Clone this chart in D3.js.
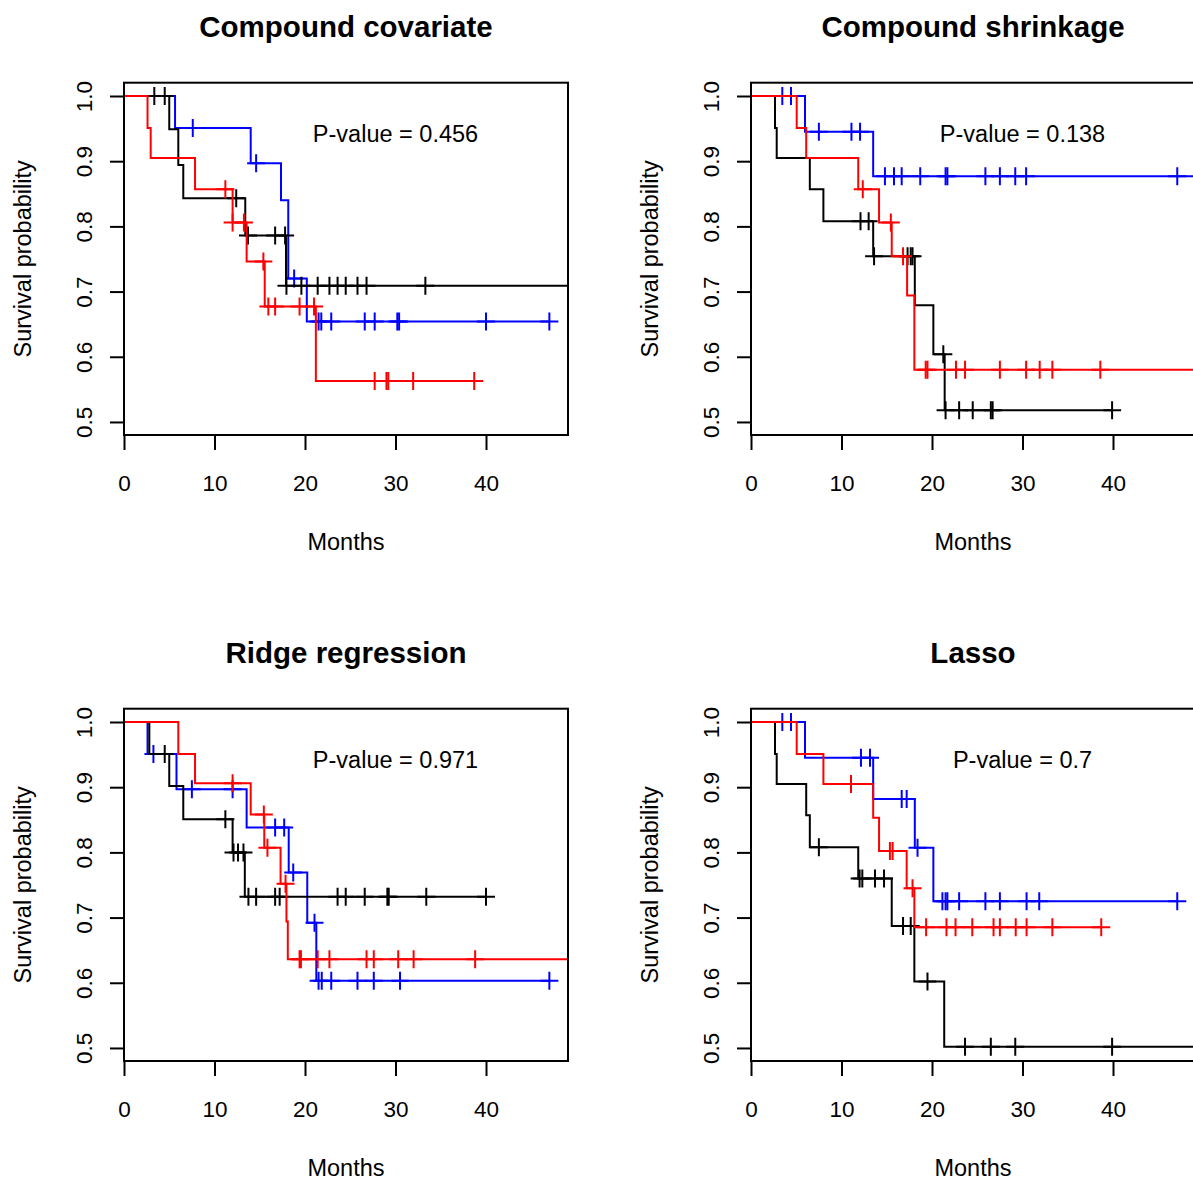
<!DOCTYPE html>
<html>
<head>
<meta charset="utf-8">
<script src="https://cdn.jsdelivr.net/npm/d3@7"></script>
<style>
  body { margin: 0; background: #fff; }
  svg { display: block; font-family: "Liberation Sans", Arial, sans-serif; }
</style>
</head>
<body>
<svg id="chart" width="1193" height="1184"></svg>
<script>
// Panels, in reading order
const panelTitles = ["Compound covariate", "Compound shrinkage", "Ridge regression", "Lasso"];
const pValues = ["0.456", "0.138", "0.971", "0.7"];
const xTicks = [0, 10, 20, 30, 40];
const yTicks = [0.5, 0.6, 0.7, 0.8, 0.9, 1.0];
const groupColors = ["blue", "black", "red"];   // drawing order

// Each curve: drops = [month, survival after the drop], censor = months, end = last month drawn
// Compound covariate
const covBlueDrops = [[5.64, 0.951], [14.0, 0.897], [17.35, 0.840], [18.15, 0.720], [20.2, 0.654]];
const covBlueCensor = [7.6, 14.6, 18.8, 21.5, 21.8, 22.9, 26.6, 27.7, 30.2, 30.4, 40.0, 47.0];
const covBlackDrops = [[5.0, 0.949], [6.0, 0.894], [6.55, 0.843], [13.4, 0.786], [17.9, 0.709]];
const covBlackCensor = [3.35, 4.5, 12.4, 13.7, 16.7, 17.8, 17.95, 19.6, 21.4, 22.7, 23.6, 24.5, 25.8, 26.8, 33.3];
const covRedDrops = [[2.6, 0.951], [2.95, 0.905], [7.85, 0.857], [12.0, 0.806], [13.55, 0.746], [15.55, 0.677], [21.2, 0.563]];
const covRedCensor = [11.2, 12.0, 13.25, 15.4, 15.95, 16.7, 19.4, 21.0, 27.7, 29.0, 29.2, 31.95, 38.7];
const covEnds = [47.0, 50, 38.7];

// Compound shrinkage
const shrBlueDrops = [[5.97, 0.945], [13.5, 0.877]];
const shrBlueCensor = [3.46, 4.42, 7.5, 11.1, 12.05, 14.8, 15.8, 16.65, 18.7, 21.5, 21.7, 25.9, 27.5, 29.2, 30.4, 47.1];
const shrBlackDrops = [[2.65, 0.951], [2.84, 0.905], [6.5, 0.857], [8.0, 0.808], [13.5, 0.754], [18.1, 0.679], [20.15, 0.604], [21.4, 0.518]];
const shrBlackCensor = [12.1, 13.0, 13.6, 17.3, 17.65, 17.85, 21.25, 21.5, 23.0, 24.5, 26.5, 26.7, 39.9];
const shrRedDrops = [[5.05, 0.951], [6.1, 0.905], [11.85, 0.857], [14.15, 0.806], [15.55, 0.754], [17.25, 0.694], [18.05, 0.580]];
const shrRedCensor = [12.35, 15.45, 16.8, 19.3, 19.5, 22.65, 23.65, 27.5, 30.4, 31.9, 33.3, 38.6];
const shrEnds = [50, 39.9, 50];

// Ridge regression
const ridBlueDrops = [[2.6, 0.951], [5.8, 0.897], [13.55, 0.838], [18.2, 0.769], [20.25, 0.692], [21.25, 0.603]];
const ridBlueCensor = [3.25, 7.5, 12.0, 16.7, 17.7, 18.7, 21.05, 21.5, 21.85, 22.9, 25.8, 27.6, 30.5, 47.0];
const ridBlackDrops = [[2.8, 0.951], [5.0, 0.902], [6.55, 0.851], [12.0, 0.800], [13.35, 0.732]];
const ridBlackCensor = [4.5, 11.2, 12.1, 12.6, 13.2, 13.75, 14.6, 16.7, 17.2, 23.6, 24.5, 26.6, 29.1, 29.25, 33.4, 40.0];
const ridRedDrops = [[6.0, 0.951], [7.85, 0.906], [14.0, 0.858], [15.5, 0.807], [17.3, 0.752], [17.95, 0.694], [18.1, 0.636]];
const ridRedCensor = [12.0, 15.45, 15.85, 17.85, 19.4, 19.55, 21.4, 22.7, 26.8, 27.6, 30.3, 32.0, 38.8];
const ridEnds = [47.0, 40.0, 50];

// Lasso
const lasBlueDrops = [[5.97, 0.945], [13.5, 0.882], [18.1, 0.807], [20.15, 0.725]];
const lasBlueCensor = [3.46, 4.42, 12.15, 13.15, 16.65, 17.2, 18.4, 21.15, 21.5, 21.7, 23.0, 25.9, 27.5, 30.45, 31.85, 47.1];
const lasBlackDrops = [[2.65, 0.951], [2.84, 0.905], [6.1, 0.857], [6.5, 0.808], [11.85, 0.760], [15.55, 0.687], [18.05, 0.602], [21.35, 0.502]];
const lasBlackCensor = [7.5, 12.0, 12.3, 13.7, 14.7, 16.8, 17.65, 19.5, 23.65, 26.5, 29.2, 39.9];
const lasRedDrops = [[5.05, 0.951], [8.0, 0.905], [13.5, 0.853], [14.15, 0.802], [17.2, 0.745], [18.05, 0.685]];
const lasRedCensor = [11.05, 15.35, 15.65, 17.85, 19.35, 21.6, 22.6, 24.45, 26.8, 27.5, 29.25, 30.45, 33.3, 38.7];
const lasEnds = [47.1, 50, 38.7];

const panelDrops = [
    [covBlueDrops, covBlackDrops, covRedDrops],
    [shrBlueDrops, shrBlackDrops, shrRedDrops],
    [ridBlueDrops, ridBlackDrops, ridRedDrops],
    [lasBlueDrops, lasBlackDrops, lasRedDrops]
];
const panelCensor = [
    [covBlueCensor, covBlackCensor, covRedCensor],
    [shrBlueCensor, shrBlackCensor, shrRedCensor],
    [ridBlueCensor, ridBlackCensor, ridRedCensor],
    [lasBlueCensor, lasBlackCensor, lasRedCensor]
];
const panelEnds = [covEnds, shrEnds, ridEnds, lasEnds];

// Layout
const boxW = 444, boxH = 352.3;
const colLeft = [124, 751], rowTop = [82.7, 708.7];
const fontTick = 22.5, fontLab = 23.5, fontTitle = 29.5;
const markArm = 9;

const svg = d3.select("#chart");

const x = d3.scaleLinear().domain([0, 49.06]).range([0, boxW]);
const y = d3.scaleLinear().domain([0.48, 1.0204]).range([boxH, 0]);

// survival at time t (right-continuous step)
function survAt(drops, t) {
    let s = 1;
    drops.forEach(d => { if (d[0] <= t) s = d[1]; });
    return s;
}

const stepLine = d3.line()
    .x(d => x(d[0]))
    .y(d => y(d[1]))
    .curve(d3.curveStepAfter);

panelTitles.forEach((title, p) => {
    const left = colLeft[p % 2], top = rowTop[Math.floor(p / 2)];
    const g = svg.append("g").attr("transform", `translate(${left},${top})`);

    g.append("clipPath").attr("id", "clip" + p)
        .append("rect").attr("width", boxW).attr("height", boxH);

    // Title
    g.append("text")
        .attr("x", boxW / 2).attr("y", -45.7)
        .attr("text-anchor", "middle")
        .attr("font-size", fontTitle).attr("font-weight", "bold")
        .text(title);

    // Axes
    const xAxis = d3.axisBottom(x).tickValues(xTicks).tickSize(15).tickSizeOuter(0);
    const gx = g.append("g").attr("transform", `translate(0,${boxH})`).call(xAxis);
    gx.select(".domain").remove();
    gx.selectAll("line").attr("stroke-width", 2);
    gx.selectAll("text")
        .attr("y", 56).attr("dy", 0)
        .attr("font-size", fontTick)
        .attr("font-family", "Liberation Sans, Arial, sans-serif");

    const yAxis = d3.axisLeft(y).tickValues(yTicks).tickSize(14).tickSizeOuter(0)
        .tickFormat(d3.format(".1f"));
    const gy = g.append("g").call(yAxis);
    gy.select(".domain").remove();
    gy.selectAll("line").attr("stroke-width", 2);
    gy.selectAll("text")
        .attr("x", 0).attr("dy", 0)
        .attr("transform", "translate(-32.5,0) rotate(-90)")
        .attr("text-anchor", "middle")
        .attr("font-size", fontTick)
        .attr("font-family", "Liberation Sans, Arial, sans-serif");

    // Axis titles
    g.append("text")
        .attr("x", boxW / 2).attr("y", boxH + 115)
        .attr("text-anchor", "middle").attr("font-size", fontLab)
        .text("Months");
    g.append("text")
        .attr("transform", `translate(-93,${boxH / 2}) rotate(-90)`)
        .attr("text-anchor", "middle").attr("font-size", fontLab)
        .text("Survival probability");

    // Curves
    const plot = g.append("g").attr("clip-path", `url(#clip${p})`);
    groupColors.forEach((col, c) => {
        const drops = panelDrops[p][c];
        const end = panelEnds[p][c];
        const pts = [[0, 1]].concat(drops);
        pts.push([end, survAt(drops, end)]);
        plot.append("path")
            .attr("d", stepLine(pts))
            .attr("fill", "none")
            .attr("stroke", col)
            .attr("stroke-width", 2);

        const marks = plot.append("g").attr("stroke", col).attr("stroke-width", 2);
        panelCensor[p][c].forEach(t => {
            const cx = x(t), cy = y(survAt(drops, t));
            marks.append("path")
                .attr("d", `M${cx - markArm},${cy}H${cx + markArm}M${cx},${cy - markArm}V${cy + markArm}`);
        });
    });

    // P-value
    g.append("text")
        .attr("x", x(30)).attr("y", y(0.93))
        .attr("text-anchor", "middle").attr("font-size", fontLab)
        .text("P-value = " + pValues[p]);

    // Box
    g.append("rect")
        .attr("width", boxW).attr("height", boxH)
        .attr("fill", "none").attr("stroke", "black").attr("stroke-width", 2);
});
</script>
</body>
</html>
